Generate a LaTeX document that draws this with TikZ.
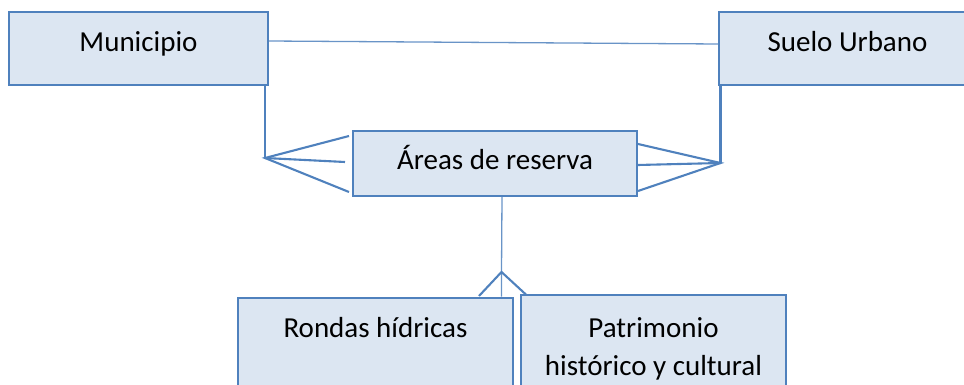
\documentclass[tikz,border=0pt]{standalone}
\usepackage{fontspec}
\setmainfont{Carlito}
\definecolor{boxfill}{HTML}{DCE6F2}
\definecolor{boxline}{HTML}{4F81BD}
\begin{document}
\begin{tikzpicture}[x=1pt,y=-1pt,
  ebox/.style={draw=boxline,fill=boxfill,line width=2pt,inner sep=0pt,
    font=\fontsize{29}{37.5}\selectfont},
  rel/.style={draw=boxline,line width=2.1pt},
  thin/.style={draw=boxline!85,line width=1.3pt}]
\useasboundingbox (0,0) rectangle (964,385);
\begin{scope}
\clip (0,0) rectangle (964,385);
\node[ebox,minimum width=259pt,minimum height=73pt,text height=20pt,text depth=13pt]
  (muni) at (138.5,48.5) {Municipio};
\node[ebox,minimum width=257pt,minimum height=73pt,text height=20pt,text depth=13pt]
  (suelo) at (847.5,48.5) {Suelo Urbano};
\node[ebox,minimum width=284pt,minimum height=65pt,text height=20pt,text depth=7pt]
  (areas) at (495,163.5) {Áreas de reserva};
\node[ebox,minimum width=275pt,minimum height=105pt,text height=20pt,text depth=45pt]
  (rondas) at (375.5,350) {Rondas hídricas};
\node[ebox,minimum width=265pt,minimum height=109pt,align=center]
  (patri) at (653.5,349) {Patrimonio\\histórico y cultural};
\end{scope}
% Municipio -- Suelo Urbano
\draw[thin] ([yshift=7.5pt]muni.east) -- ([yshift=4.5pt]suelo.west);
% left crow's foot
\coordinate (lp) at (265,158);
\coordinate (l1) at (349,136);
\coordinate (l2) at (345,162);
\coordinate (l3) at (349,192);
\draw[rel] (lp |- muni.south) -- (lp);
\draw[rel] (l1) -- (lp) -- (l3);
\draw[rel] (lp) -- (l2);
% right crow's foot
\coordinate (rp) at (720.5,163);
\coordinate (r1) at (areas.east |- 0,144);
\coordinate (r2) at (areas.east |- 0,165);
\coordinate (r3) at (areas.east |- 0,191);
\draw[rel] (rp |- suelo.south) -- (rp);
\draw[rel] (r1) -- (rp) -- (r3);
\draw[rel] (rp) -- (r2);
% bottom crow's foot
\coordinate (bp) at (501.5,272);
\coordinate (b1) at (479,296);
\coordinate (b3) at (526,294.6);
\draw[thin] ([xshift=7pt]areas.south) -- (bp) -- (bp |- rondas.north);
\draw[rel] (b1) -- (bp) -- (b3);
\end{tikzpicture}
\end{document}
